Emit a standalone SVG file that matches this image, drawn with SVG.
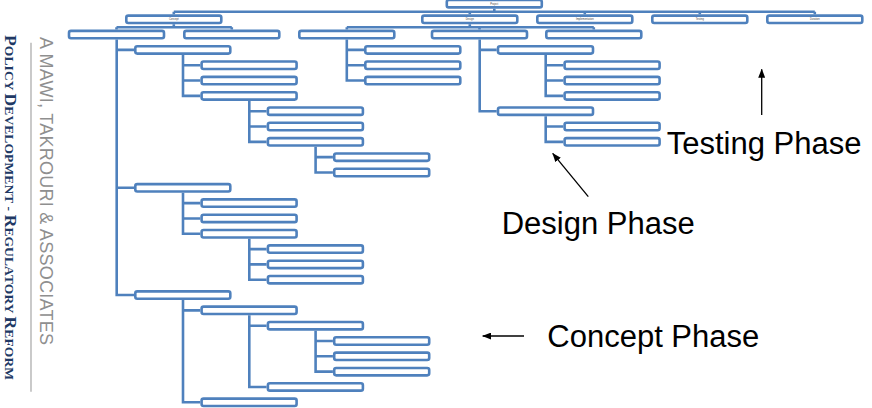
<svg xmlns="http://www.w3.org/2000/svg" width="872" height="408" viewBox="0 0 872 408">
<style>
.b{fill:#fff;stroke:#4F81BD;stroke-width:2.6}
.c{fill:none;stroke:#4F81BD;stroke-width:2.6}
.t{font-family:"Liberation Sans",Arial,sans-serif;font-size:2.6px;fill:#404040;text-anchor:middle}
.ph{font-family:"Liberation Sans",Arial,sans-serif;font-size:31px;fill:#000}
.ar{stroke:#000;stroke-width:1.3;fill:none}
</style>
<defs>
<marker id="ah" markerUnits="userSpaceOnUse" markerWidth="9" markerHeight="7" refX="8.5" refY="3.5" orient="auto">
<path d="M0,0 L9,3.5 L0,7 z" fill="#000"/>
</marker>
<rect id="bx" width="95" height="7.4" rx="2"/>
</defs>
<rect width="872" height="408" fill="#fff"/>

<g id="sidebar">
<line x1="31" y1="42.7" x2="31" y2="391.7" stroke="#a6a6a6" stroke-width="1.2"/>
<text transform="translate(40,37) rotate(90)" font-family="Liberation Sans,Arial,sans-serif" font-size="18" fill="#8f8f8f" textLength="308" lengthAdjust="spacing">A MAWI, TAKROURI &amp; ASSOCIATES</text>
<text transform="translate(5,35) rotate(90)" font-family="Liberation Serif,Times New Roman,serif" font-weight="bold" fill="#203864" textLength="345" lengthAdjust="spacing"><tspan font-size="17.5">P</tspan><tspan font-size="13.5">OLICY </tspan><tspan font-size="17.5">D</tspan><tspan font-size="13.5">EVELOPMENT - </tspan><tspan font-size="17.5">R</tspan><tspan font-size="13.5">EGULATORY </tspan><tspan font-size="17.5">R</tspan><tspan font-size="13.5">EFORM</tspan></text>
</g>

<g id="connectors">
<path class="c" d="M494.3 8.7V11.7 M173.8 11.7H814.8 M173.8 11.7V14.3 M469.8 11.7V14.3 M584.8 11.7V14.3 M699.8 11.7V14.3 M814.8 11.7V14.3"/>
<path class="c" d="M173.8 24.3V27.3 M116.5 27.3H231.8 M116.5 27.3V29.6 M231.8 27.3V29.6"/>
<path class="c" d="M469.8 24.3V27.3 M346.8 27.3H593.8 M346.8 27.3V29.6 M479.5 27.3V29.6 M593.8 27.3V29.6"/>
<path class="c" d="M116.7 39.6V295.04H134 M116.7 49.92H134 M116.7 187.8H134"/>
<path class="c" d="M183 54.92V95.88H200.3 M183 65.24H200.3 M183 80.56H200.3"/>
<path class="c" d="M249.3 100.88V141.84H266.6 M249.3 111.2H266.6 M249.3 126.52H266.6"/>
<path class="c" d="M315.6 146.84V172.48H332.9 M315.6 157.16H332.9"/>
<path class="c" d="M183 192.8V233.76H200.3 M183 203.12H200.3 M183 218.44H200.3"/>
<path class="c" d="M249.3 238.76V279.72H266.6 M249.3 249.08H266.6 M249.3 264.4H266.6"/>
<path class="c" d="M183 300.04V402.28H200.3 M183 310.36H200.3"/>
<path class="c" d="M249.3 315.36V386.96H266.6 M249.3 325.68H266.6"/>
<path class="c" d="M315.6 330.68V371.64H332.9 M315.6 341H332.9 M315.6 356.32H332.9"/>
<path class="c" d="M346.8 39.6V80.56H364 M346.8 49.92H364 M346.8 65.24H364"/>
<path class="c" d="M479.7 39.6V111.2H496.7 M479.7 49.92H496.7"/>
<path class="c" d="M545.7 54.92V95.88H563.3 M545.7 65.24H563.3 M545.7 80.56H563.3"/>
<path class="c" d="M545.7 116.2V141.84H563.3 M545.7 126.52H563.3"/>
</g>

<g id="project"><use href="#bx" class="b" x="446.8" y="0"/><text class="t" x="494.3" y="4.8">Project</text></g>
<g id="concept"><use href="#bx" class="b" x="126.3" y="15.6"/><text class="t" x="173.8" y="20.2">Concept</text></g>
<g id="design"><use href="#bx" class="b" x="422.3" y="15.6"/><text class="t" x="469.8" y="20.2">Design</text></g>
<g id="implementation"><use href="#bx" class="b" x="537.3" y="15.6"/><text class="t" x="584.8" y="20.2">Implementation</text></g>
<g id="testing"><use href="#bx" class="b" x="652.3" y="15.6"/><text class="t" x="699.8" y="20.2">Testing</text></g>
<g id="duration"><use href="#bx" class="b" x="767.3" y="15.6"/><text class="t" x="814.8" y="20.2">Duration</text></g>

<g id="c1"><use href="#bx" class="b" x="69" y="30.9"/></g>
<g id="c1-1"><use href="#bx" class="b" x="135.3" y="46.22"/></g>
<g id="c1-1-1"><use href="#bx" class="b" x="201.6" y="61.54"/></g>
<g id="c1-1-2"><use href="#bx" class="b" x="201.6" y="76.86"/></g>
<g id="c1-1-3"><use href="#bx" class="b" x="201.6" y="92.18"/></g>
<g id="c1-1-3-1"><use href="#bx" class="b" x="267.9" y="107.5"/></g>
<g id="c1-1-3-2"><use href="#bx" class="b" x="267.9" y="122.82"/></g>
<g id="c1-1-3-3"><use href="#bx" class="b" x="267.9" y="138.14"/></g>
<g id="c1-1-3-3-1"><use href="#bx" class="b" x="334.2" y="153.46"/></g>
<g id="c1-1-3-3-2"><use href="#bx" class="b" x="334.2" y="168.78"/></g>
<g id="c1-2"><use href="#bx" class="b" x="135.3" y="184.1"/></g>
<g id="c1-2-1"><use href="#bx" class="b" x="201.6" y="199.42"/></g>
<g id="c1-2-2"><use href="#bx" class="b" x="201.6" y="214.74"/></g>
<g id="c1-2-3"><use href="#bx" class="b" x="201.6" y="230.06"/></g>
<g id="c1-2-3-1"><use href="#bx" class="b" x="267.9" y="245.38"/></g>
<g id="c1-2-3-2"><use href="#bx" class="b" x="267.9" y="260.7"/></g>
<g id="c1-2-3-3"><use href="#bx" class="b" x="267.9" y="276.02"/></g>
<g id="c1-3"><use href="#bx" class="b" x="135.3" y="291.34"/></g>
<g id="c1-3-1"><use href="#bx" class="b" x="201.6" y="306.66"/></g>
<g id="c1-3-1-1"><use href="#bx" class="b" x="267.9" y="321.98"/></g>
<g id="c1-3-1-1-1"><use href="#bx" class="b" x="334.2" y="337.3"/></g>
<g id="c1-3-1-1-2"><use href="#bx" class="b" x="334.2" y="352.62"/></g>
<g id="c1-3-1-1-3"><use href="#bx" class="b" x="334.2" y="367.94"/></g>
<g id="c1-3-1-2"><use href="#bx" class="b" x="267.9" y="383.26"/></g>
<g id="c1-3-2"><use href="#bx" class="b" x="201.6" y="398.58"/></g>
<g id="c2"><use href="#bx" class="b" x="184.3" y="30.9"/></g>

<g id="d1"><use href="#bx" class="b" x="299.3" y="30.9"/></g>
<g id="d1-1"><use href="#bx" class="b" x="365.3" y="46.22"/></g>
<g id="d1-2"><use href="#bx" class="b" x="365.3" y="61.54"/></g>
<g id="d1-3"><use href="#bx" class="b" x="365.3" y="76.86"/></g>
<g id="d2"><use href="#bx" class="b" x="432" y="30.9"/></g>
<g id="d2-1"><use href="#bx" class="b" x="498" y="46.22"/></g>
<g id="d2-1-1"><use href="#bx" class="b" x="564.6" y="61.54"/></g>
<g id="d2-1-2"><use href="#bx" class="b" x="564.6" y="76.86"/></g>
<g id="d2-1-3"><use href="#bx" class="b" x="564.6" y="92.18"/></g>
<g id="d2-2"><use href="#bx" class="b" x="498" y="107.5"/></g>
<g id="d2-2-1"><use href="#bx" class="b" x="564.6" y="122.82"/></g>
<g id="d2-2-2"><use href="#bx" class="b" x="564.6" y="138.14"/></g>
<g id="d3"><use href="#bx" class="b" x="546.3" y="30.9"/></g>

<g id="annotations">
<line class="ar" x1="761.7" y1="115" x2="761.7" y2="69.3" marker-end="url(#ah)"/>
<text class="ph" x="666.7" y="154.3">Testing Phase</text>
<line class="ar" x1="588.3" y1="196.7" x2="552.7" y2="153.3" marker-end="url(#ah)"/>
<text class="ph" x="501.7" y="234">Design Phase</text>
<line class="ar" x1="524" y1="336" x2="482.7" y2="336" marker-end="url(#ah)"/>
<text class="ph" x="547.3" y="346.7">Concept Phase</text>
</g>
</svg>
